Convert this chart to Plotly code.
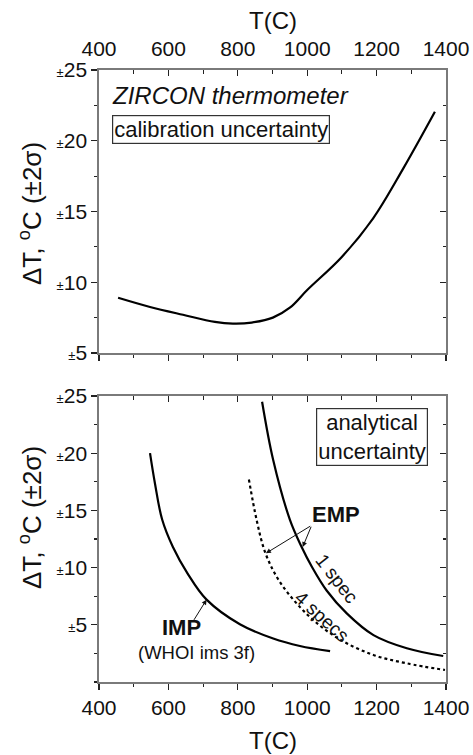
import plotly.graph_objects as go

# ---------------- data ----------------
calib_T = [455, 547, 642, 734, 786, 840, 901, 950, 1000, 1099, 1190, 1277, 1368]
calib_dT = [8.9, 8.25, 7.7, 7.2, 7.08, 7.15, 7.5, 8.2, 9.45, 11.77, 14.52, 18.05, 22.05]

imp_T = [547, 561, 582, 613, 655, 710, 806, 902, 979, 1066]
imp_dT = [20.0, 17.4, 14.2, 11.8, 9.5, 7.2, 5.05, 3.8, 3.15, 2.7]

spec1_T = [870, 902, 950, 984, 1013, 1056, 1114, 1191, 1287, 1392]
spec1_dT = [24.5, 19.4, 14.2, 11.8, 10.1, 8.0, 6.0, 4.1, 2.95, 2.27]

spec4_T = [832, 854, 878, 912, 960, 1018, 1095, 1191, 1287, 1397]
spec4_dT = [17.7, 14.2, 11.4, 9.2, 7.2, 5.4, 3.7, 2.36, 1.63, 1.05]

x_ticks = [400, 600, 800, 1000, 1200, 1400]
y_ticks = [5, 10, 15, 20, 25]
y_ticktext = ["<span style='font-size:13px'>±</span>%d" % v for v in y_ticks]

FONT = "Liberation Sans, Arial, sans-serif"
W, H = 473, 755
LINE_C = "#7a7a7a"
TICK_C = "#222222"

fig = go.Figure()
fig.add_trace(go.Scatter(x=calib_T, y=calib_dT, mode="lines", line=dict(color="black", width=2.2, shape="spline"),
                         xaxis="x", yaxis="y", showlegend=False))
fig.add_trace(go.Scatter(x=imp_T, y=imp_dT, mode="lines", line=dict(color="black", width=2.2, shape="spline"),
                         xaxis="x2", yaxis="y2", showlegend=False))
fig.add_trace(go.Scatter(x=spec1_T, y=spec1_dT, mode="lines", line=dict(color="black", width=2.2, shape="spline"),
                         xaxis="x2", yaxis="y2", showlegend=False))
fig.add_trace(go.Scatter(x=spec4_T, y=spec4_dT, mode="lines", line=dict(color="black", width=2.2, shape="spline", dash="dot"),
                         xaxis="x2", yaxis="y2", showlegend=False))
# transparent carriers so the opposite-side frame axes get drawn
fig.add_trace(go.Scatter(x=calib_T, y=calib_dT, mode="lines", line=dict(color="rgba(0,0,0,0)", width=0),
                         xaxis="x3", yaxis="y3", showlegend=False, hoverinfo="skip"))
fig.add_trace(go.Scatter(x=imp_T, y=imp_dT, mode="lines", line=dict(color="rgba(0,0,0,0)", width=0),
                         xaxis="x4", yaxis="y4", showlegend=False, hoverinfo="skip"))

xdom = [99 / W, 446 / W]
top_dom = [1 - 353 / H, 1 - 70 / H]
bot_dom = [1 - 682 / H, 1 - 396 / H]


def xax(**kw):
    d = dict(range=[400, 1400], domain=xdom, tickvals=x_ticks, showline=True, linecolor=LINE_C, linewidth=1.7,
             tickcolor=TICK_C, ticklen=6, tickwidth=1.3, showgrid=False, zeroline=False,
             tickfont=dict(family=FONT, size=21, color="#111"), automargin=False, fixedrange=True,
             minor=dict(dtick=100, ticklen=3.5, tickcolor=TICK_C, tickwidth=1.2))
    d.update(kw)
    return d


def yax(rng, dom, **kw):
    d = dict(range=rng, domain=dom, tickvals=y_ticks, ticktext=y_ticktext, showline=True, linecolor=LINE_C,
             linewidth=1.7, tickcolor=TICK_C, ticklen=6, tickwidth=1.3, showgrid=False, zeroline=False,
             tickfont=dict(family=FONT, size=21, color="#111"), automargin=False, fixedrange=True,
             minor=dict(tick0=0, dtick=2.5, ticklen=3.5, tickcolor=TICK_C, tickwidth=1.2))
    d.update(kw)
    return d


fig.update_layout(
    width=W, height=H, autosize=False, margin=dict(l=0, r=0, t=0, b=0),
    plot_bgcolor="rgba(0,0,0,0)", paper_bgcolor="white", showlegend=False,
    font=dict(family=FONT, color="#111"),
)
fig.update_layout(
    xaxis=xax(side="top", anchor="y", ticks="inside", ticklabelstandoff=4, mirror=True),
    yaxis=yax([5, 25], top_dom, anchor="x", ticks="outside", mirror=True),
    xaxis2=xax(side="bottom", anchor="y2", ticks="outside", mirror=True),
    yaxis2=yax([0, 25], bot_dom, anchor="x2", ticks="outside", mirror=True),
    # frame axes, top panel
    xaxis3=xax(side="bottom", anchor="y3", overlaying="x", ticks="outside", showticklabels=False),
    yaxis3=yax([5, 25], top_dom, anchor="x3", overlaying="y", side="right", ticks="inside",
               showticklabels=False),
    # frame axes, bottom panel
    xaxis4=xax(side="top", anchor="y4", ticks="inside", showticklabels=False),
    yaxis4=yax([0, 25], bot_dom, anchor="x4", side="right", ticks="inside", showticklabels=False),
)
fig.update_xaxes(minor_ticks="inside", selector=dict(ticks="inside"))
fig.update_xaxes(minor_ticks="outside", selector=dict(ticks="outside"))
fig.update_yaxes(minor_ticks="inside", selector=dict(ticks="inside"))
fig.update_yaxes(minor_ticks="outside", selector=dict(ticks="outside"))

ann = []
ytitle = "ΔT, <sup>o</sup>C (±2σ)"
C = dict(xanchor="center", yanchor="middle", showarrow=False)
ann.append(dict(text="T(C)", x=(99 + 446) / 2 / W, y=1 - 20 / H, xref="paper", yref="paper",
                font=dict(size=24, family=FONT), **C))
ann.append(dict(text="T(C)", x=(99 + 446) / 2 / W, y=1 - 740 / H, xref="paper", yref="paper",
                font=dict(size=24, family=FONT), **C))
ann.append(dict(text=ytitle, x=30 / W, y=1 - 214 / H, xref="paper", yref="paper", textangle=-90,
                font=dict(size=26, family=FONT), **C))
ann.append(dict(text=ytitle, x=30 / W, y=1 - 518 / H, xref="paper", yref="paper", textangle=-90,
                font=dict(size=26, family=FONT), **C))
ann.append(dict(text="<i>ZIRCON thermometer</i>", x=432, y=23.2, xref="x", yref="y", xanchor="left",
                yanchor="middle", showarrow=False, font=dict(size=24, family=FONT)))
ann.append(dict(text="calibration uncertainty", x=437, y=20.83, xref="x", yref="y", xanchor="left",
                yanchor="middle", showarrow=False, font=dict(size=22, family=FONT),
                bordercolor="#333", borderwidth=1.2, borderpad=1))
ann.append(dict(text="analytical<br>uncertainty", x=1188, y=21.4, xref="x2", yref="y2",
                font=dict(size=22, family=FONT), bordercolor="#333", borderwidth=1.2, borderpad=1, **C))
ann.append(dict(text="<b>EMP</b>", x=1083, y=14.6, xref="x2", yref="y2",
                font=dict(size=22, family=FONT), **C))
ann.append(dict(text="", x=881, y=11.25, ax=1013, ay=13.7, xref="x2", yref="y2", axref="x2", ayref="y2",
                showarrow=True, arrowhead=2, arrowsize=1, arrowwidth=1, arrowcolor="#111"))
ann.append(dict(text="", x=987, y=11.8, ax=1013, ay=13.7, xref="x2", yref="y2", axref="x2", ayref="y2",
                showarrow=True, arrowhead=2, arrowsize=1, arrowwidth=1, arrowcolor="#111"))
ann.append(dict(text="1 spec", x=1085, y=9.06, xref="x2", yref="y2", textangle=52,
                font=dict(size=19, family=FONT), **C))
ann.append(dict(text="4 specs", x=1042, y=5.7, xref="x2", yref="y2", textangle=42,
                font=dict(size=19, family=FONT), **C))
ann.append(dict(text="<b>IMP</b>", x=639, y=4.8, xref="x2", yref="y2",
                font=dict(size=22, family=FONT), **C))
ann.append(dict(text="(WHOI ims 3f)", x=680, y=2.6, xref="x2", yref="y2",
                font=dict(size=18.5, family=FONT), **C))
ann.append(dict(text="", x=710, y=7.2, ax=671, ay=5.3, xref="x2", yref="y2", axref="x2", ayref="y2",
                showarrow=True, arrowhead=2, arrowsize=1, arrowwidth=1, arrowcolor="#111"))
fig.update_layout(annotations=ann)

fig.write_html("out.html", config={"displayModeBar": False, "staticPlot": True},
               post_script="document.body.style.margin='0px';")
